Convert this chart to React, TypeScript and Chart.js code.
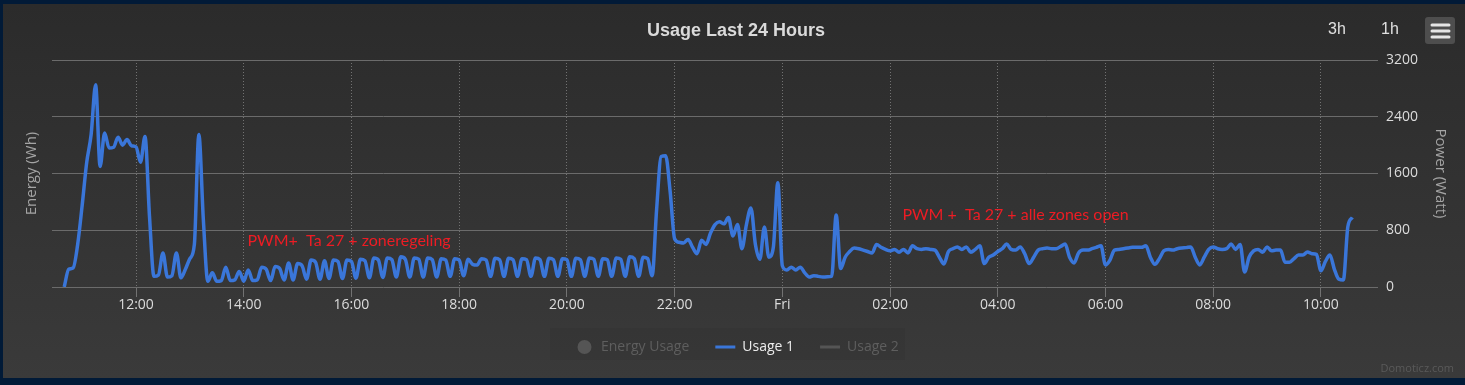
import React, { useEffect, useRef } from 'react';
import { Chart, registerables } from 'chart.js';

Chart.register(...registerables);

// ---------- data ----------
const chartTitle = 'Usage Last 24 Hours';
const startHour = 10 + 40 / 60; // 10:40 on Thursday
const stepHours = 5 / 60; // 5 minute samples

// Usage 1 (Watt), 5-minute samples from 10:40 to 10:35 next day
const usage1 = [
  0, 250, 270, 600, 1150, 1750, 2150, 2850, 1700, 2170,
  1960, 1970, 2110, 2000, 2080, 1990, 1975, 1760, 2120, 1000,
  150, 170, 480, 140, 160, 480, 130, 250, 400, 600,
  2150, 950, 80, 200, 80, 90, 280, 90, 100, 220,
  80, 240, 90, 100, 280, 250, 90, 290, 260, 100,
  340, 100, 330, 300, 110, 380, 350, 110, 370, 120,
  380, 360, 120, 380, 360, 125, 390, 370, 130, 410,
  380, 135, 410, 385, 140, 425, 390, 140, 410, 390,
  140, 410, 385, 140, 400, 380, 150, 400, 380, 160,
  390, 320, 310, 400, 380, 150, 405, 385, 150, 405,
  385, 150, 400, 385, 150, 410, 385, 150, 405, 385,
  150, 400, 385, 150, 405, 385, 150, 410, 390, 150,
  400, 385, 150, 410, 390, 150, 425, 400, 150, 420,
  400, 160, 1100, 1840, 1850, 1350, 680, 630, 620, 670,
  560, 470, 660, 600, 760, 880, 920, 890, 980, 720,
  880, 540, 880, 1115, 600, 390, 845, 420, 560, 1470,
  300, 240, 280, 240, 280, 200, 140, 160, 150, 140,
  145, 150, 1015, 260, 420, 500, 550, 540, 520, 500,
  480, 600, 560, 530, 510, 530, 490, 530, 480, 580,
  540, 530, 540, 530, 520, 420, 325, 500, 540, 565,
  530, 565, 490, 530, 580, 330, 420, 450, 500, 540,
  605, 530, 520, 565, 470, 330, 420, 520, 540, 550,
  540, 540, 570, 605, 420, 340, 480, 520, 520, 540,
  560, 580, 310, 380, 520, 530, 540, 550, 560, 560,
  560, 580, 420, 320, 400, 510, 530, 520, 540, 550,
  555, 565, 420, 310, 420, 530, 565, 540, 530, 540,
  605, 530, 600, 210, 420, 510, 530, 490, 565, 510,
  520, 520, 350, 350, 400, 450, 450, 495, 470, 460,
  230, 360, 450, 250, 110, 100, 850, 980,
];

const xMinHour = 10.44;
const xMaxHour = 35.06;
const xTickHours = [12, 14, 16, 18, 20, 22, 24, 26, 28, 30, 32, 34];
const xTickLabels = ['12:00', '14:00', '16:00', '18:00', '20:00', '22:00', 'Fri', '02:00', '04:00', '06:00', '08:00', '10:00'];
const powerTicks = [0, 800, 1600, 2400, 3200];
const seriesNames = ['Energy Usage', 'Usage 1', 'Usage 2'];
const seriesHidden = [true, false, true];
const rangeButtons = ['3h', '1h'];
const leftAxisTitle = 'Energy (Wh)';
const rightAxisTitle = 'Power (Watt)';
const noteTexts = ['PWM+  Ta 27 + zoneregeling', 'PWM +  Ta 27 + alle zones open'];
const noteHours = [14.07, 26.23];
const noteWatts = [578, 945];
const creditText = 'Domoticz.com';

// ---------- styles ----------
const W = 1465;
const H = 385;
const BLUE = 'rgb(58,118,217)';
const TEXT = '#dcdcdc';
const SANS = '"Open Sans", "Noto Sans", sans-serif';

const decorPlugin = {
  id: 'decor',
  beforeDraw(chart: any) {
    const ctx = chart.ctx;
    ctx.save();
    ctx.fillStyle = '#011a37';
    ctx.fillRect(0, 0, W, H);
    const g = ctx.createLinearGradient(0, 4, 0, 378);
    g.addColorStop(0, '#2b2b2b');
    g.addColorStop(1, '#3a3a3a');
    ctx.fillStyle = g;
    ctx.fillRect(3, 4, W - 3, 374);
    ctx.restore();
  },
  afterDraw(chart: any) {
    const ctx = chart.ctx;
    const xs = chart.scales.x;
    const ys = chart.scales.y;
    const area = chart.chartArea;
    ctx.save();

    // title
    ctx.fillStyle = '#dadada';
    ctx.font = 'bold 18px "Liberation Sans", Arial, sans-serif';
    ctx.textAlign = 'center';
    ctx.textBaseline = 'middle';
    ctx.fillText(chartTitle, 736, 31);

    // range buttons
    ctx.font = '16px "Liberation Sans", Arial, sans-serif';
    ctx.fillStyle = '#e0e0e0';
    const btnX = [1337, 1390];
    rangeButtons.forEach((b, i) => ctx.fillText(b, btnX[i], 30));

    // menu button
    ctx.fillStyle = '#4e4e4e';
    ctx.beginPath();
    (ctx as any).roundRect(1425, 17, 30, 27, 3);
    ctx.fill();
    ctx.strokeStyle = '#e6e6e6';
    ctx.lineWidth = 3;
    ctx.lineCap = 'round';
    [25, 31, 37].forEach((y) => {
      ctx.beginPath();
      ctx.moveTo(1432, y);
      ctx.lineTo(1449, y);
      ctx.stroke();
    });

    // axis titles
    const midY = (area.top + area.bottom) / 2;
    ctx.fillStyle = '#a4a4a4';
    ctx.font = `15px ${SANS}`;
    ctx.save();
    ctx.translate(32, midY);
    ctx.rotate(-Math.PI / 2);
    ctx.fillText(leftAxisTitle, 0, 0);
    ctx.restore();
    ctx.save();
    ctx.translate(1440, midY);
    ctx.rotate(Math.PI / 2);
    ctx.fillText(rightAxisTitle, 0, 0);
    ctx.restore();

    // notes
    ctx.fillStyle = '#ED1C24';
    ctx.font = '16px Lato, sans-serif';
    ctx.textAlign = 'left';
    ctx.textBaseline = 'alphabetic';
    noteTexts.forEach((t, i) => {
      ctx.fillText(t, xs.getPixelForValue(noteHours[i]), ys.getPixelForValue(noteWatts[i]));
    });

    // legend
    ctx.fillStyle = 'rgba(0,0,0,0.04)';
    ctx.fillRect(550, 328, 355, 32);
    ctx.font = `14px ${SANS}`;
    ctx.textBaseline = 'middle';
    const ly = 347;
    let x = 577;
    chart.data.datasets.forEach((ds: any, i: number) => {
      const hidden = seriesHidden[i];
      const symColor = hidden ? '#555555' : ds.borderColor;
      let textX;
      if (i === 0) {
        ctx.fillStyle = symColor;
        ctx.beginPath();
        ctx.arc(x + 7.5, ly, 7, 0, Math.PI * 2);
        ctx.fill();
        textX = x + 24;
      } else {
        ctx.strokeStyle = symColor;
        ctx.lineWidth = 3;
        ctx.lineCap = 'butt';
        ctx.beginPath();
        ctx.moveTo(x, ly);
        ctx.lineTo(x + 20, ly);
        ctx.stroke();
        textX = x + 27;
      }
      ctx.fillStyle = hidden ? '#5e5e5e' : '#ececec';
      ctx.fillText(seriesNames[i], textX, ly);
      x = textX + ctx.measureText(seriesNames[i]).width + 26;
    });

    // credit
    ctx.fillStyle = '#5a5a5a';
    ctx.font = `11px ${SANS}`;
    ctx.textAlign = 'right';
    ctx.fillText(creditText, 1454, 369);

    ctx.restore();
  },
};

export default function App() {
  const ref = useRef<HTMLCanvasElement | null>(null);

  useEffect(() => {
    document.body.style.margin = '0';
    const canvas = ref.current;
    if (!canvas) return;
    const tickFont = { family: SANS, size: 14 };
    const chart = new Chart(canvas, {
      type: 'line',
      data: {
        datasets: [
          { label: seriesNames[0], data: [], hidden: true, borderColor: '#888', pointRadius: 0 },
          {
            label: seriesNames[1],
            data: usage1.map((v, i) => ({ x: startHour + i * stepHours, y: v })),
            borderColor: BLUE,
            borderWidth: 3.5,
            pointRadius: 0,
            fill: false,
            cubicInterpolationMode: 'monotone',
            yAxisID: 'y',
          },
          { label: seriesNames[2], data: [], hidden: true, borderColor: '#888', pointRadius: 0 },
        ],
      },
      options: {
        responsive: false,
        animation: false,
        devicePixelRatio: 1,
        layout: { padding: { top: 60, left: 52, right: 0, bottom: 0 } },
        plugins: {
          legend: { display: false },
          title: { display: false },
          tooltip: { enabled: false },
        },
        scales: {
          x: {
            type: 'linear',
            min: xMinHour,
            max: xMaxHour,
            afterBuildTicks: (s: any) => {
              s.ticks = xTickHours.map((v) => ({ value: v }));
            },
            afterFit: (s: any) => {
              s.height = 98;
            },
            ticks: {
              autoSkip: false,
              maxRotation: 0,
              padding: 0,
              color: TEXT,
              font: tickFont,
              callback: (_v: any, i: number) => xTickLabels[i],
            },
            grid: { color: '#727272', lineWidth: 1, tickLength: 10, tickColor: '#727272', tickWidth: 1 },
            border: { display: false, dash: [1, 2] },
          },
          y: {
            type: 'linear',
            position: 'right',
            min: 0,
            max: 3200,
            afterBuildTicks: (s: any) => {
              s.ticks = powerTicks.map((v) => ({ value: v }));
            },
            afterFit: (s: any) => {
              s.width = 87;
            },
            ticks: { padding: 8, color: TEXT, font: tickFont, callback: (v: any) => String(v) },
            grid: { color: '#6b6b6b', drawTicks: false },
            border: { display: false },
          },
        },
      } as any,
      plugins: [decorPlugin],
    });
    return () => chart.destroy();
  }, []);

  return (
    <div style={{ width: W, height: H }}>
      <canvas ref={ref} width={W} height={H} style={{ display: 'block' }} />
    </div>
  );
}
